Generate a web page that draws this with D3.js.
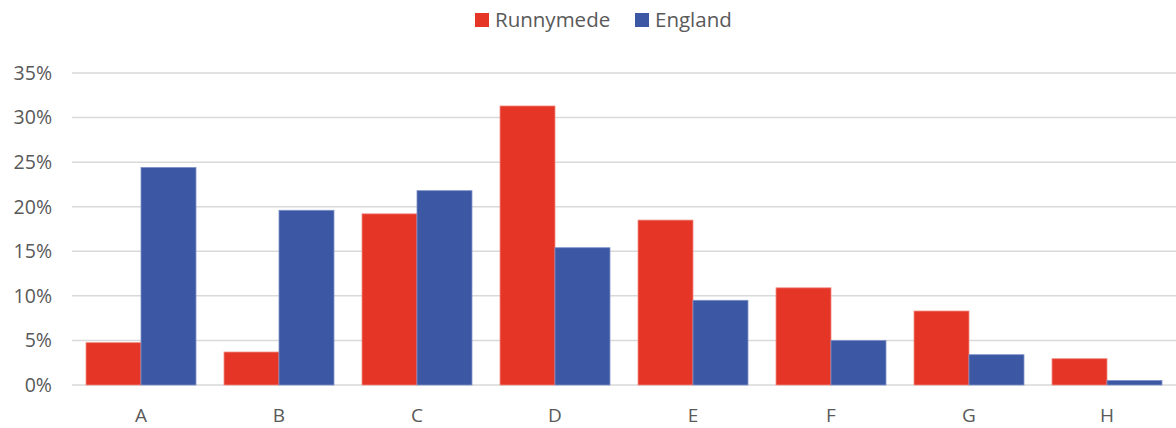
<!DOCTYPE html>
<html>
<head>
<meta charset="utf-8">
<script src="https://cdn.jsdelivr.net/npm/d3@7"></script>
<style>
  body { margin: 0; background: #fff; }
  text { font-family: "Open Sans", "Noto Sans", sans-serif; fill: #595959; }
</style>
</head>
<body>
<svg id="chart" width="1176" height="428"></svg>
<script>
var categories = ['A', 'B', 'C', 'D', 'E', 'F', 'G', 'H'];
var seriesNames = ['Runnymede', 'England'];
var runnymede = [4.75, 3.7, 19.2, 31.3, 18.5, 10.9, 8.3, 2.95];
var england = [24.4, 19.6, 21.8, 15.4, 9.5, 5.0, 3.4, 0.5];
var yTicks = [0, 5, 10, 15, 20, 25, 30, 35];
var colors = ['#E43526', '#3C57A3'];

var svg = d3.select('#chart');
var margin = {left: 72, right: 0, top: 73, bottom: 43};
var width = 1176, height = 428;

// one full slot per category
var x = d3.scaleBand()
    .domain(categories)
    .range([margin.left, width - margin.right])
    .padding(0);
var step = x.step();

// bars inside a slot, gap left and right
var xs = d3.scaleBand().domain(seriesNames).range([0, step]).paddingInner(0).paddingOuter(0.255);

var y = d3.scaleLinear().domain([0, 35]).range([height - margin.bottom, margin.top]);

// gridlines
svg.append('g')
    .selectAll('line')
    .data(yTicks)
    .enter()
    .append('line')
    .attr('x1', margin.left)
    .attr('x2', width - margin.right)
    .attr('y1', function(d) { return y(d); })
    .attr('y2', function(d) { return y(d); })
    .attr('stroke', '#d9d9d9')
    .attr('stroke-width', 1.5);

// y labels
svg.append('g')
    .selectAll('text')
    .data(yTicks)
    .enter()
    .append('text')
    .attr('x', 52)
    .attr('y', function(d) { return y(d); })
    .attr('dy', '0.35em')
    .attr('text-anchor', 'end')
    .style('font-size', '19.5px')
    .text(function(d) { return d + '%'; });

// bars
var rows = categories.map(function(c, i) {
    return {cat: c, vals: [runnymede[i], england[i]]};
});

var groups = svg.append('g')
    .selectAll('g')
    .data(rows)
    .enter()
    .append('g')
    .attr('transform', function(d) { return 'translate(' + x(d.cat) + ',0)'; });

groups.selectAll('rect')
    .data(function(d) {
        return d.vals.map(function(v, k) { return {name: seriesNames[k], v: v, k: k}; });
    })
    .enter()
    .append('rect')
    .attr('x', function(d) { return xs(d.name); })
    .attr('width', xs.bandwidth())
    .attr('y', function(d) { return y(d.v); })
    .attr('height', function(d) { return y(0) - y(d.v); })
    .attr('fill', function(d) { return colors[d.k]; })
    .attr('stroke', function(d) { return d.k === 0 ? '#f08a80' : '#7d90c6'; })
    .attr('stroke-width', 0.8);

// x labels
svg.append('g')
    .selectAll('text')
    .data(categories)
    .enter()
    .append('text')
    .attr('x', function(d) { return x(d) + step / 2; })
    .attr('y', 422)
    .attr('text-anchor', 'middle')
    .style('font-size', '19px')
    .text(function(d) { return d; });

// legend
var legendX = [475, 635];
var legend = svg.append('g')
    .selectAll('g')
    .data(seriesNames)
    .enter()
    .append('g')
    .attr('transform', function(d, i) { return 'translate(' + legendX[i] + ',13)'; });

legend.append('rect')
    .attr('width', 14)
    .attr('height', 14)
    .attr('fill', function(d, i) { return colors[i]; });

legend.append('text')
    .attr('x', 20)
    .attr('y', 7)
    .attr('dy', '0.35em')
    .style('font-size', '20.5px')
    .text(function(d) { return d; });
</script>
</body>
</html>
